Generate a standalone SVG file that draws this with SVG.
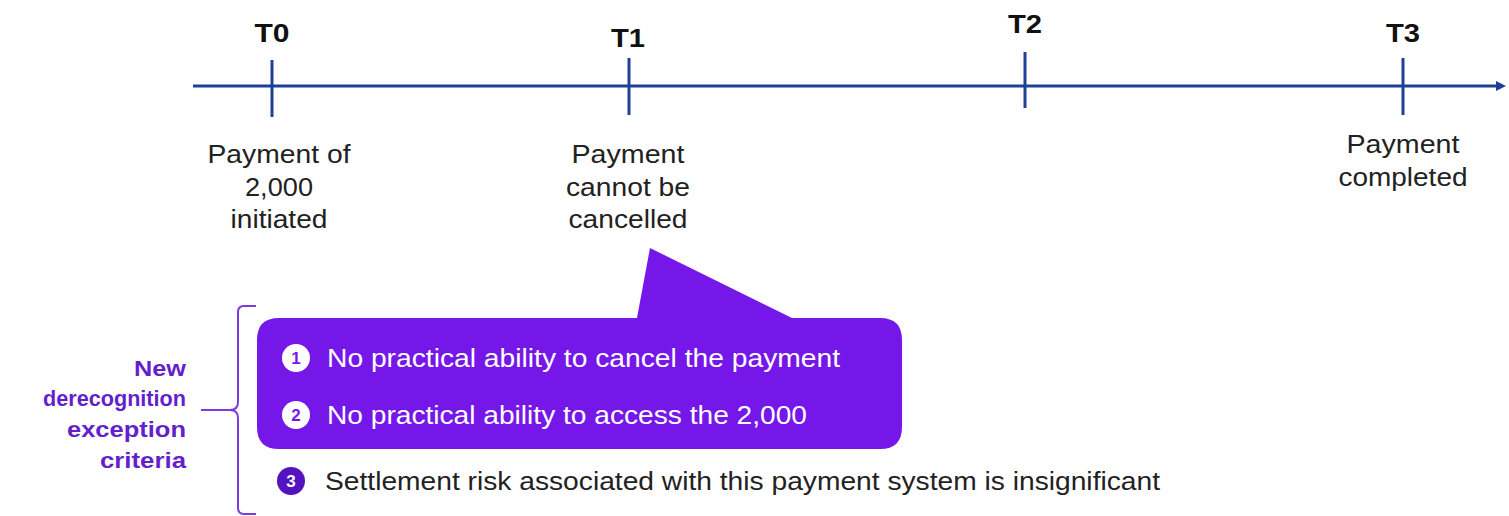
<svg xmlns="http://www.w3.org/2000/svg" width="1509" height="516" viewBox="0 0 1509 516">
<style>
.tl{stroke:#1d4196;stroke-width:3;fill:none}
.tk{stroke:#1d4196;stroke-width:3}
.tlab{font-family:"Liberation Sans",Arial,sans-serif;font-weight:bold;font-size:26px;fill:#111;text-anchor:middle}
.desc{font-family:"Liberation Sans",Arial,sans-serif;font-size:26px;fill:#222;text-anchor:middle}
.crit{font-family:"Liberation Sans",Arial,sans-serif;font-size:25px;fill:#fff}
.crit3{font-family:"Liberation Sans",Arial,sans-serif;font-size:25px;fill:#222}
.num{font-family:"Liberation Sans",Arial,sans-serif;font-size:17px;font-weight:bold;text-anchor:middle}
.side{font-family:"Liberation Sans",Arial,sans-serif;font-weight:bold;font-size:22px;fill:#641fcc;text-anchor:end}
</style>
<defs>
<marker id="arr" markerWidth="10" markerHeight="10" refX="6" refY="5" orient="auto" markerUnits="userSpaceOnUse">
<path d="M0,0 L10,5 L0,10 Z" fill="#1d4196"/>
</marker>
</defs>
<rect width="1509" height="516" fill="#fff"/>
<g id="connectors">
<line class="tl" x1="193" y1="86" x2="1502" y2="86" marker-end="url(#arr)"/>
<path d="M256,306 L244,306 Q238,306 238,312 L238,402 Q238,410 230,410 L201,410 M230,410 Q238,410 238,418 L238,508 Q238,514 244,514 L256,514" fill="none" stroke="#7a3be0" stroke-width="2"/>
</g>
<g id="T0">
<line class="tk" x1="272" y1="60" x2="272" y2="117"/>
<text class="tlab" x="272" y="42" textLength="35" lengthAdjust="spacingAndGlyphs">T0</text>
<text class="desc" x="279" y="163" textLength="143" lengthAdjust="spacingAndGlyphs">Payment of</text>
<text class="desc" x="279" y="196" textLength="68" lengthAdjust="spacingAndGlyphs">2,000</text>
<text class="desc" x="279" y="228" textLength="97" lengthAdjust="spacingAndGlyphs">initiated</text>
</g>
<g id="T1">
<line class="tk" x1="629" y1="58" x2="629" y2="115"/>
<text class="tlab" x="628" y="47" textLength="34" lengthAdjust="spacingAndGlyphs">T1</text>
<text class="desc" x="628" y="163" textLength="113" lengthAdjust="spacingAndGlyphs">Payment</text>
<text class="desc" x="628" y="196" textLength="124" lengthAdjust="spacingAndGlyphs">cannot be</text>
<text class="desc" x="628" y="228" textLength="119" lengthAdjust="spacingAndGlyphs">cancelled</text>
</g>
<g id="T2">
<line class="tk" x1="1025" y1="52" x2="1025" y2="108"/>
<text class="tlab" x="1025" y="33" textLength="34" lengthAdjust="spacingAndGlyphs">T2</text>
</g>
<g id="T3">
<line class="tk" x1="1403" y1="58" x2="1403" y2="115"/>
<text class="tlab" x="1403" y="42" textLength="34" lengthAdjust="spacingAndGlyphs">T3</text>
<text class="desc" x="1403" y="153" textLength="113" lengthAdjust="spacingAndGlyphs">Payment</text>
<text class="desc" x="1403" y="186" textLength="129" lengthAdjust="spacingAndGlyphs">completed</text>
</g>
<g id="callout">
<path d="M279,318 L637,318 L650,248 L792,318 L880,318 Q902,318 902,340 L902,427 Q902,449 880,449 L279,449 Q257,449 257,427 L257,340 Q257,318 279,318 Z" fill="#7517e8"/>
<circle cx="296" cy="358" r="14" fill="#fff"/>
<text class="num" x="296" y="364" fill="#7517e8">1</text>
<text class="crit" x="327" y="367" textLength="513" lengthAdjust="spacingAndGlyphs">No practical ability to cancel the payment</text>
<circle cx="296" cy="415" r="14" fill="#fff"/>
<text class="num" x="296" y="421" fill="#7517e8">2</text>
<text class="crit" x="327" y="424" textLength="480" lengthAdjust="spacingAndGlyphs">No practical ability to access the 2,000</text>
</g>
<g id="criterion3">
<circle cx="291" cy="481" r="14" fill="#5412c0"/>
<text class="num" x="291" y="487" fill="#fff">3</text>
<text class="crit3" x="325" y="490" textLength="835" lengthAdjust="spacingAndGlyphs">Settlement risk associated with this payment system is insignificant</text>
</g>
<g id="label">
<text class="side" x="186" y="376" textLength="52" lengthAdjust="spacingAndGlyphs">New</text>
<text class="side" x="186" y="406" textLength="143" lengthAdjust="spacingAndGlyphs">derecognition</text>
<text class="side" x="186" y="437" textLength="119" lengthAdjust="spacingAndGlyphs">exception</text>
<text class="side" x="186" y="468" textLength="86" lengthAdjust="spacingAndGlyphs">criteria</text>
</g>
</svg>
